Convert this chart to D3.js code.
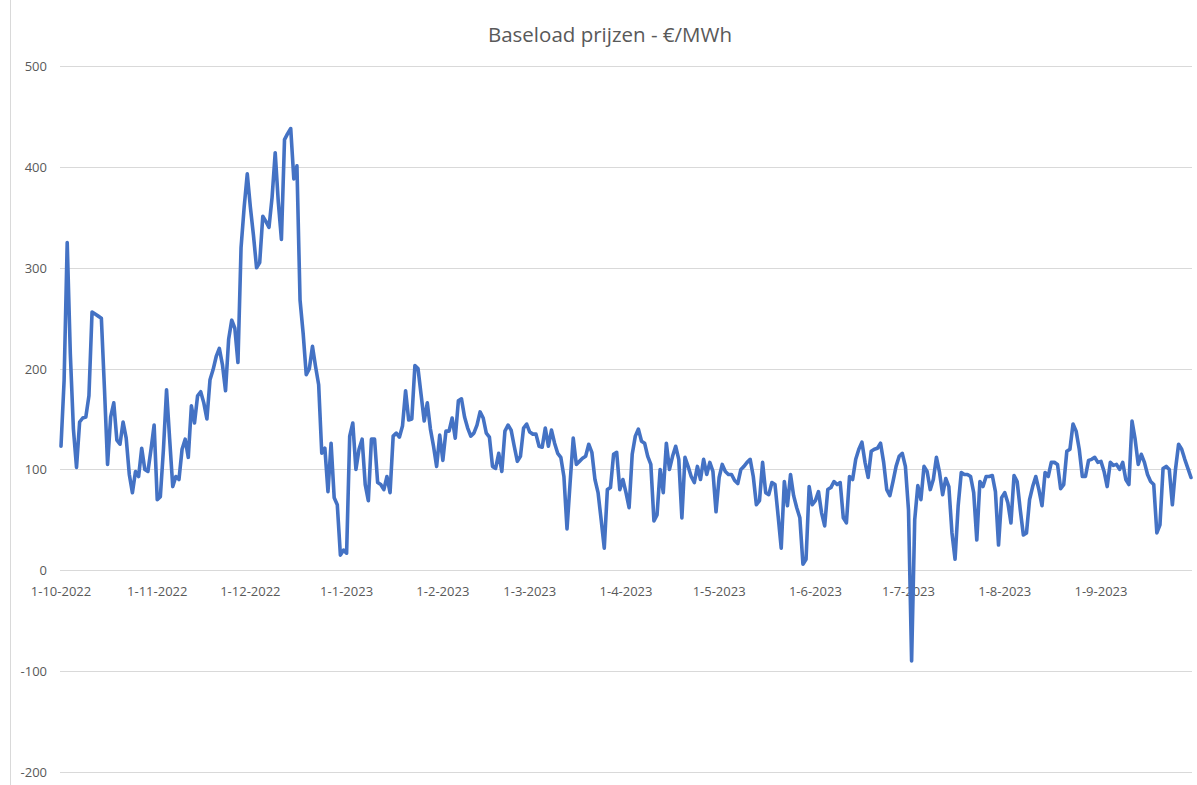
<!DOCTYPE html>
<html lang="nl">
<head>
    <meta charset="UTF-8">
    <title>Baseload prijzen</title>
    <style>
        body { margin: 0; background: #fff; }
        svg text { font-family: "Open Sans", "Noto Sans", sans-serif; fill: #595959; }
    </style>
</head>
<body>
<div id="chart"></div>
<script src="https://d3js.org/d3.v7.min.js"></script>
<script>
    // eerste dag van de reeks, daarna één waarde per dag
    const startDate = "2022-10-01";

    const prices = [
        123, 188, 325, 215, 140, 102, 147, 151, 152, 173, 256, 254, 252, 250, 180, 105, 152, 166, 129, 125,
        147, 131, 95, 77, 98, 93, 121, 100, 98, 120, 144, 70, 73, 120, 179, 130, 83, 93, 90, 120,
        130, 112, 163, 146, 173, 177, 166, 150, 189, 199, 212, 220, 204, 178, 229, 248, 240, 206, 320, 360,
        393, 360, 332, 300, 305, 351, 346, 340, 370, 414, 365, 328, 427, 433, 438, 388, 401, 268, 235, 194,
        200, 222, 202, 184, 116, 121, 78, 126, 72, 65, 15, 20, 17, 133, 146, 100, 120, 130, 85, 69,
        130, 130, 87, 85, 80, 93, 77, 133, 136, 132, 143, 178, 149, 150, 203, 200, 174, 148, 166, 140,
        123, 103, 134, 109, 138, 138, 151, 131, 168, 170, 152, 141, 133, 136, 144, 157, 151, 136, 132, 103,
        101, 116, 98, 138, 144, 139, 123, 108, 113, 141, 145, 137, 135, 135, 123, 122, 141, 123, 139, 126,
        116, 112, 93, 41, 87, 131, 105, 108, 111, 113, 125, 117, 90, 77, 50, 22, 80, 82, 115, 117,
        80, 90, 77, 62, 115, 133, 140, 128, 126, 113, 105, 49, 55, 100, 77, 126, 100, 113, 123, 110,
        52, 112, 103, 93, 87, 103, 90, 110, 95, 107, 98, 58, 92, 105, 98, 95, 95, 89, 86, 100,
        103, 107, 110, 93, 65, 69, 107, 77, 75, 87, 85, 54, 22, 88, 64, 95, 74, 62, 52, 6,
        11, 83, 65, 69, 78, 57, 44, 80, 82, 88, 85, 87, 52, 47, 93, 90, 110, 120, 127, 107,
        92, 118, 120, 121, 126, 107, 80, 74, 88, 103, 113, 116, 103, 60, -90, 50, 84, 70, 103, 98,
        80, 90, 112, 97, 75, 91, 83, 37, 11, 64, 97, 95, 95, 93, 77, 30, 88, 83, 93, 93,
        94, 78, 25, 72, 77, 67, 47, 94, 88, 60, 35, 37, 70, 83, 93, 80, 64, 97, 93, 107,
        107, 105, 81, 85, 118, 120, 145, 138, 120, 93, 93, 109, 110, 112, 107, 108, 98, 83, 107, 104,
        105, 100, 107, 90, 85, 148, 130, 105, 115, 107, 95, 88, 85, 37, 45, 101, 103, 100, 65, 100,
        125, 120, 110, 101, 92
    ];

    const yTicks = [-200, -100, 0, 100, 200, 300, 400, 500];
    const monthTicks = ["2022-10-01", "2022-11-01", "2022-12-01", "2023-01-01", "2023-02-01", "2023-03-01",
        "2023-04-01", "2023-05-01", "2023-06-01", "2023-07-01", "2023-08-01", "2023-09-01"];
    const title = "Baseload prijzen - €/MWh";

    const width = 1197, height = 785;
    const parse = d3.utcParse("%Y-%m-%d");
    const start = parse(startDate);
    const data = prices.map((v, i) => ({ date: d3.utcDay.offset(start, i), value: v }));

    const x = d3.scaleUtc()
        .domain([start, d3.utcDay.offset(start, prices.length - 1)])
        .range([61, 1191]);
    const y = d3.scaleLinear().domain([-200, 500]).range([772, 66]);

    const svg = d3.select("#chart").append("svg")
        .attr("width", width)
        .attr("height", height);

    // kaderlijn links
    svg.append("line")
        .attr("x1", 10.5).attr("x2", 10.5)
        .attr("y1", 0).attr("y2", height)
        .attr("stroke", "#d9d9d9");

    svg.append("text")
        .attr("x", 610)
        .attr("y", 42)
        .attr("text-anchor", "middle")
        .style("font-size", "20.5px")
        .text(title);

    // rasterlijnen
    svg.append("g")
        .selectAll("line")
        .data(yTicks)
        .enter().append("line")
        .attr("x1", 60).attr("x2", 1192)
        .attr("y1", d => Math.round(y(d)) + 0.5)
        .attr("y2", d => Math.round(y(d)) + 0.5)
        .attr("stroke", "#d9d9d9")
        .attr("stroke-width", 1);

    // y-as labels
    svg.append("g")
        .selectAll("text")
        .data(yTicks)
        .enter().append("text")
        .attr("x", 47)
        .attr("y", d => y(d) + 5)
        .attr("text-anchor", "end")
        .style("font-size", "13px")
        .text(d => d);

    // x-as labels
    const fmt = d3.utcFormat("%-d-%-m-%Y");
    svg.append("g")
        .selectAll("text")
        .data(monthTicks.map(parse))
        .enter().append("text")
        .attr("x", d => x(d))
        .attr("y", y(0) + 26)
        .attr("text-anchor", "middle")
        .style("font-size", "13px")
        .text(d => fmt(d));

    const line = d3.line()
        .x(d => x(d.date))
        .y(d => y(d.value));

    svg.append("path")
        .datum(data)
        .attr("fill", "none")
        .attr("stroke", "#4472C4")
        .attr("stroke-width", 3.6)
        .attr("stroke-linejoin", "round")
        .attr("stroke-linecap", "round")
        .attr("d", line);
</script>
</body>
</html>
